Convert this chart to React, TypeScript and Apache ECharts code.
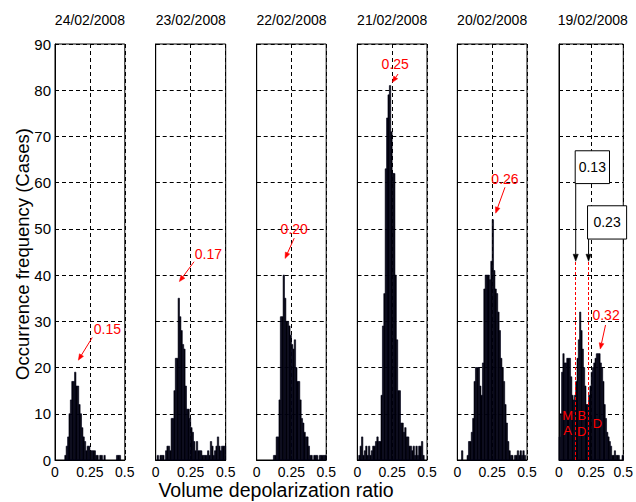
import React, { useEffect, useRef } from 'react';
import * as echarts from 'echarts';

// ---------------- data ----------------
const BIN_WIDTH = 0.01;
const dates = ['24/02/2008', '23/02/2008', '22/02/2008', '21/02/2008', '20/02/2008', '19/02/2008'];

// occurrence counts per 0.01-wide bin, bins start at 0.00 ... 0.49
const counts24 = [0,0,0,0,0,0,0,1,3,5, 10,13,17,17,19,16,16,12,10,7, 5,4,2,3,3,2,2,2,2,1, 1,0,1,1,0,1,0,0,0,0, 0,0,0,0,1,1,1,0,0,0];
const counts23 = [0,1,0,1,1,1,0,2,3,3, 2,9,9,15,22,22,35,31,28,25, 24,16,11,11,9,7,6,4,2,4, 2,2,2,1,1,1,1,2,1,4, 3,1,2,3,5,3,2,3,3,3];
const counts22 = [0,0,0,0,0,0,0,0,0,0, 0,0,1,1,5,5,13,31,31,40, 35,30,30,29,27,25,24,26,20,17, 17,13,9,8,6,5,5,3,1,1, 0,1,1,1,0,1,1,1,1,1];
const counts21 = [0,1,3,5,1,2,3,1,3,1, 2,3,3,4,5,4,4,14,29,36, 63,74,79,81,71,62,62,40,26,15, 15,8,8,6,7,5,5,3,3,2, 3,1,3,1,3,3,4,1,0,0];
const counts20 = [0,0,0,2,0,0,0,1,4,4, 6,9,17,20,20,20,16,14,21,37, 40,40,40,39,43,52,41,37,36,32, 28,22,20,17,12,8,4,2,1,1, 0,1,1,2,1,2,1,2,1,0];
const counts19 = [5,10,19,23,21,21,22,22,22,18, 14,13,14,17,22,26,32,28,24,20, 16,12,12,14,16,19,20,21,22,23, 23,23,21,20,17,12,9,6,5,4, 3,1,1,2,1,1,1,0,0,1];
const panelCounts = [counts24, counts23, counts22, counts21, counts20, counts19];

// mode annotations (data coordinates of each panel)
const peakNotes = [
  { panel: 0, label: '0.15', tx: 0.375, ty: 28.3, fx: 0.267, fy: 26.5, hx: 0.167, hy: 21.6 },
  { panel: 1, label: '0.17', tx: 0.376, ty: 44.5, fx: 0.274, fy: 42.9, hx: 0.169, hy: 38.6 },
  { panel: 2, label: '0.20', tx: 0.27, ty: 49.9, fx: 0.27, fy: 48, hx: 0.204, hy: 43.6 },
  { panel: 3, label: '0.25', tx: 0.272, ty: 85.6, fx: 0.292, fy: 83.5, hx: 0.251, hy: 81.7 },
  { panel: 4, label: '0.26', tx: 0.342, ty: 60.7, fx: 0.342, fy: 59, hx: 0.275, hy: 53.4 },
  { panel: 5, label: '0.32', tx: 0.366, ty: 31.4, fx: 0.362, fy: 29.2, hx: 0.321, hy: 24 },
];
const boxNotes = [
  { panel: 5, label: '0.13', x0: 0.126, x1: 0.393, y0: 66.9, y1: 59.8, cx: 0.259, cy: 63.4, ax: 0.13, ay: 43 },
  { panel: 5, label: '0.23', x0: 0.222, x1: 0.526, y0: 55, y1: 47.8, cx: 0.374, cy: 51.4, ax: 0.23, ay: 43 },
];
const splitValues = [0.13, 0.23];
const splitTop = 43;
const classLabels = [
  { text: 'M', x: 0.067, y: 9.7 },
  { text: 'A', x: 0.067, y: 6.3 },
  { text: 'B', x: 0.177, y: 9.7 },
  { text: 'D', x: 0.177, y: 6.1 },
  { text: 'D', x: 0.299, y: 7.8 },
];

const FONT = "'Liberation Sans', Arial, Helvetica, sans-serif";

// ---------------- layout ----------------
const panelLeft = [55, 155.7, 256.7, 357.3, 457.3, 559];
const panelWidth = [69.8, 70, 69.5, 69.7, 69.7, 67.5];
const TOP = 44;
const HEIGHT = 416;

const renderBar = (params: any, api: any) => {
  const x0 = api.value(0) as number;
  const h = api.value(1) as number;
  if (!h) return null;
  const tl = api.coord([x0, h]);
  const br = api.coord([x0 + BIN_WIDTH, 0]);
  return {
    type: 'rect',
    shape: { x: tl[0], y: tl[1], width: br[0] - tl[0], height: br[1] - tl[1] },
    style: { fill: '#000000', stroke: '#00001c', lineWidth: 0.6 },
  };
};

function arrowGraphic(from: number[], to: number[], color: string, len = 6, half = 2.4) {
  const dx = to[0] - from[0];
  const dy = to[1] - from[1];
  const d = Math.sqrt(dx * dx + dy * dy) || 1;
  const ux = dx / d, uy = dy / d;
  const bx = to[0] - ux * len, by = to[1] - uy * len;
  const px = -uy, py = ux;
  return [
    { type: 'line', shape: { x1: from[0], y1: from[1], x2: bx, y2: by }, style: { stroke: color, lineWidth: 1 }, z: 100 },
    {
      type: 'polygon',
      shape: { points: [[to[0], to[1]], [bx + px * half, by + py * half], [bx - px * half, by - py * half]] },
      style: { fill: color, stroke: color, lineWidth: 0.5 },
      z: 100,
    },
  ];
}

export default function App() {
  const ref = useRef<HTMLDivElement>(null);

  useEffect(() => {
    if (!ref.current) return;
    const chart = echarts.init(ref.current, undefined, { renderer: 'svg' });

    const grids = panelLeft.map((l, i) => ({
      left: l, top: TOP, width: panelWidth[i], height: HEIGHT,
      show: true, borderColor: '#000', borderWidth: 1, backgroundColor: '#fff',
    }));
    const xAxes = panelLeft.map((_, i) => ({
      type: 'value', gridIndex: i, min: 0, max: 0.5, interval: 0.25,
      axisLine: { show: true, lineStyle: { color: '#000', width: 1 } },
      axisTick: { show: true, inside: true, length: 4, lineStyle: { color: '#000' } },
      axisLabel: { show: true, color: '#000', fontSize: 14, fontFamily: FONT, margin: 5,
        formatter: (v: number) => String(v) },
      splitLine: { show: true, lineStyle: { color: '#000', type: [4, 3], width: 1 } },
    }));
    const yAxes = panelLeft.map((_, i) => ({
      type: 'value', gridIndex: i, min: 0, max: 90, interval: 10,
      axisLine: { show: true, lineStyle: { color: '#000', width: 1 } },
      axisTick: { show: true, inside: true, length: 4, lineStyle: { color: '#000' } },
      axisLabel: { show: i === 0, color: '#000', fontSize: 15, fontFamily: FONT, margin: 4 },
      splitLine: { show: true, lineStyle: { color: '#000', type: [4, 3], width: 1 } },
    }));

    const series: any[] = panelCounts.map((counts, i) => ({
      type: 'custom',
      xAxisIndex: i,
      yAxisIndex: i,
      renderItem: renderBar,
      encode: { x: 0, y: 1 },
      data: counts.map((c, k) => [Number((k * BIN_WIDTH).toFixed(2)), c]),
      silent: true,
      z: 2,
    }));
    series[5].markLine = {
      silent: true,
      symbol: 'none',
      label: { show: false },
      lineStyle: { color: '#ff0000', type: [3, 2], width: 1 },
      data: splitValues.map((v) => [{ coord: [v, 0] }, { coord: [v, splitTop] }]),
      z: 5,
    };

    chart.setOption({
      animation: false,
      backgroundColor: '#fff',
      grid: grids,
      xAxis: xAxes,
      yAxis: yAxes,
      series,
    });

    const px = (panel: number, x: number, y: number) =>
      chart.convertToPixel({ gridIndex: panel } as any, [x, y]) as number[];

    const graphics: any[] = [];
    dates.forEach((d, i) => {
      graphics.push({
        type: 'text', x: panelLeft[i] + panelWidth[i] / 2, y: 20,
        style: { text: d, fontSize: 14, fontFamily: FONT, fill: '#000', align: 'center', verticalAlign: 'middle' },
      });
    });
    graphics.push({
      type: 'text', x: 22, y: 254, rotation: Math.PI / 2,
      style: { text: 'Occurrence frequency (Cases)', fontSize: 18.5, fontFamily: FONT, fill: '#000', align: 'center', verticalAlign: 'middle' },
    });
    graphics.push({
      type: 'text', x: 276, y: 490,
      style: { text: 'Volume depolarization ratio', fontSize: 19.5, fontFamily: FONT, fill: '#000', align: 'center', verticalAlign: 'middle' },
    });

    peakNotes.forEach((n) => {
      const t = px(n.panel, n.tx, n.ty);
      graphics.push({
        type: 'text', x: t[0], y: t[1], z: 101,
        style: { text: n.label, fontSize: 14, fontFamily: FONT, fill: '#ff0000', align: 'center', verticalAlign: 'middle' },
      });
      graphics.push(...arrowGraphic(px(n.panel, n.fx, n.fy), px(n.panel, n.hx, n.hy), '#ff0000'));
    });

    boxNotes.forEach((n) => {
      const a = px(n.panel, n.x0, n.y0);
      const b = px(n.panel, n.x1, n.y1);
      graphics.push({
        type: 'rect', z: 100,
        shape: { x: a[0], y: a[1], width: b[0] - a[0], height: b[1] - a[1] },
        style: { fill: '#fff', stroke: '#000', lineWidth: 1 },
      });
      const c = px(n.panel, n.cx, n.cy);
      graphics.push({
        type: 'text', x: c[0], y: c[1], z: 101,
        style: { text: n.label, fontSize: 14, fontFamily: FONT, fill: '#000', align: 'center', verticalAlign: 'middle' },
      });
      const from = px(n.panel, n.ax, n.y1);
      const to = px(n.panel, n.ax, n.ay);
      graphics.push(...arrowGraphic(from, to, '#000', 7, 2.6));
    });

    classLabels.forEach((c) => {
      const p = px(5, c.x, c.y);
      graphics.push({
        type: 'text', x: p[0], y: p[1], z: 101,
        style: { text: c.text, fontSize: 13, fontFamily: FONT, fill: '#ff0000', align: 'center', verticalAlign: 'middle' },
      });
    });

    chart.setOption({ graphic: graphics });

    return () => chart.dispose();
  }, []);

  return (
    <div
      ref={ref}
      style={{ position: 'fixed', left: 0, top: 0, width: 636, height: 502, background: '#fff' }}
    />
  );
}
